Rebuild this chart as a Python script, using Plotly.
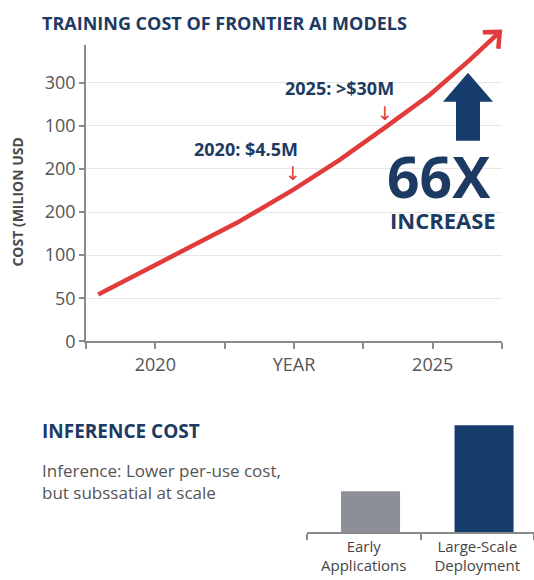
import math
import plotly.graph_objects as go

W, H = 534, 580
K = 0.983  # renderer vertical compression compensation

# ---- Data ----
line_years = [2018.97, 2020.44, 2021.47, 2022.49, 2023.33, 2024.17, 2024.95, 2025.67, 2026.21]
line_cost = [54.4, 102.7, 137.5, 176.1, 210.8, 249.4, 286.1, 326.7, 359.1]

y_tickvals = [0, 50, 100, 150, 200, 250, 300]
y_ticktext = ["0", "50", "100", "200", "200", "100", "300"]

x_tickvals = [2018.75, 2020.0, 2021.25, 2022.5, 2023.75, 2025.0, 2026.25]
x_ticktext = ["", "2020", "", "YEAR", "", "2025", ""]

bar_categories = ["Early<br>Applications", "Large-Scale<br>Deployment"]
bar_values = [38, 100]
bar_colors = ["#8c8f96", "#173d6e"]

NAVY = "#1d3a63"
RED = "#e23b3b"
GREY = "#555555"
FONT = "Open Sans"


def px(x):
    return x / W


def py(y):
    return 1 - (y / K) / H


# Axis geometry (reference pixels)
X0, X1 = 86, 502
Y0, Y1 = 342, 45
XR = [2018.75, 2026.25]
YR = [0, 344]
ppx = (X1 - X0) / (XR[1] - XR[0])  # px per year
ppy = (Y0 - Y1) / (YR[1] - YR[0])  # px per unit

# Wider invisible axis for the line so the arrow can rise above the frame
LX1, LY1 = 522, 20
LXR = [XR[0], XR[0] + (LX1 - X0) / ppx]
LYR = [0, (Y0 - LY1) / ppy]

# chevron arrowhead at the end of the line (computed in pixel space)
dxp = (line_years[-1] - line_years[-2]) * ppx
dyp = (line_cost[-1] - line_cost[-2]) * ppy
ang = math.atan2(dyp, dxp)
arm = 17
head_x, head_y = [], []
for sgn in (1, None, -1):
    if sgn is None:
        head_x.append(line_years[-1])
        head_y.append(line_cost[-1])
    else:
        a = ang + math.pi - sgn * math.radians(42)
        head_x.append(line_years[-1] + arm * math.cos(a) / ppx)
        head_y.append(line_cost[-1] + arm * math.sin(a) / ppy)

fig = go.Figure()

# empty trace so the visible axis frame (x, y) is drawn
fig.add_trace(go.Scatter(x=[None], y=[None], mode="lines", showlegend=False,
                         hoverinfo="skip", xaxis="x", yaxis="y"))

fig.add_trace(go.Scatter(
    x=line_years, y=line_cost, mode="lines",
    line=dict(color=RED, width=4.5),
    showlegend=False, hoverinfo="skip", xaxis="x3", yaxis="y3",
))
fig.add_trace(go.Scatter(
    x=head_x, y=head_y, mode="lines",
    line=dict(color=RED, width=4.5),
    showlegend=False, hoverinfo="skip", xaxis="x3", yaxis="y3",
))

# Inference bars
fig.add_trace(go.Bar(
    x=bar_categories, y=bar_values, marker=dict(color=bar_colors, line=dict(width=0)),
    width=0.52, offset=-0.2, showlegend=False, hoverinfo="skip",
    xaxis="x2", yaxis="y2",
))

axline = dict(showline=True, linecolor="#8a8a8a", linewidth=1.5,
              ticks="outside", tickcolor="#8a8a8a", tickwidth=1.5, zeroline=False)

fig.update_layout(
    width=W, height=H,
    margin=dict(l=0, r=0, t=0, b=0),
    paper_bgcolor="white", plot_bgcolor="rgba(0,0,0,0)",
    font=dict(family=FONT, color=GREY),
    xaxis=dict(domain=[px(X0), px(X1)], range=XR,
               tickvals=x_tickvals, ticktext=x_ticktext, ticklen=6,
               showgrid=False, tickfont=dict(size=18, color=GREY, family=FONT),
               anchor="y", **axline),
    yaxis=dict(domain=[py(Y0), py(Y1)], range=YR,
               tickvals=y_tickvals, ticktext=y_ticktext, ticklen=5,
               showgrid=True, gridcolor="#e6e6e6", gridwidth=1,
               tickfont=dict(size=18, color=GREY, family=FONT),
               anchor="x", **axline),
    xaxis3=dict(domain=[px(X0), px(LX1)], range=LXR, visible=False, anchor="y3"),
    yaxis3=dict(domain=[py(Y0), py(LY1)], range=LYR, visible=False, anchor="x3"),
    xaxis2=dict(domain=[px(307), 1.0], range=[-0.5, 1.5], type="category",
                tickson="boundaries", ticklen=6, showgrid=False,
                tickfont=dict(size=15, color="#444444", family=FONT),
                anchor="y2", **axline),
    yaxis2=dict(domain=[py(533), py(420)], range=[0, 105.6], visible=False,
                anchor="x2"),
)

annotations = [
    dict(text="<b>TRAINING COST OF FRONTIER AI MODELS</b>", x=px(40), y=py(23),
         xanchor="left", yanchor="middle", font=dict(size=18, color=NAVY)),
    dict(text="<b>COST (MILION USD</b>", x=px(18), y=py(203), textangle=-90,
         xanchor="center", yanchor="middle", font=dict(size=14, color="#4a4a4a")),
    dict(text="<b>2025: >$30M</b>", x=px(339), y=py(88),
         xanchor="center", yanchor="middle", font=dict(size=18, color=NAVY)),
    dict(text="↓", x=px(385), y=py(113),
         xanchor="center", yanchor="middle", font=dict(size=19, color=RED, family="DejaVu Sans")),
    dict(text="<b>2020: $4.5M</b>", x=px(246), y=py(149),
         xanchor="center", yanchor="middle", font=dict(size=18, color=NAVY)),
    dict(text="↓", x=px(293), y=py(173),
         xanchor="center", yanchor="middle", font=dict(size=19, color=RED, family="DejaVu Sans")),
    dict(text="<b>66X</b>", x=px(439), y=py(176),
         xanchor="center", yanchor="middle", font=dict(size=57, color=NAVY)),
    dict(text="<b>INCREASE</b>", x=px(443), y=py(220),
         xanchor="center", yanchor="middle", font=dict(size=22, color=NAVY)),
    dict(text="<b>INFERENCE COST</b>", x=px(40), y=py(432),
         xanchor="left", yanchor="middle", font=dict(size=19, color=NAVY)),
    dict(text="Inference: Lower per-use cost,<br>but subssatial at scale", x=px(40), y=py(482),
         xanchor="left", yanchor="middle", align="left",
         font=dict(size=17, color=GREY)),
]
for a in annotations:
    a.update(xref="paper", yref="paper", showarrow=False)
fig.update_layout(annotations=annotations)

# Big navy up arrow
ax = [px(443), px(468), px(493), px(480), px(456)]
ay = [py(102), py(73), py(102), py(141), py(141)]
path = (f"M {ax[0]},{ay[0]} L {ax[1]},{ay[1]} L {ax[2]},{ay[2]} "
        f"L {ax[3]},{ay[0]} L {ax[3]},{ay[3]} L {ax[4]},{ay[4]} L {ax[4]},{ay[0]} Z")
fig.add_shape(type="path", path=path, xref="paper", yref="paper",
              fillcolor="#173d6e", line=dict(width=0))

fig.write_html("out.html")
